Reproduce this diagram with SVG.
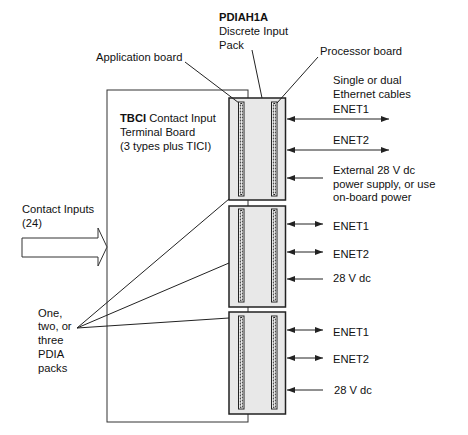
<svg xmlns="http://www.w3.org/2000/svg" width="468" height="435" viewBox="0 0 468 435">
<defs>
<style>
text{font-family:"Liberation Sans",Arial,sans-serif;font-size:11.2px;fill:#111}
.b{font-weight:bold}
.ln{stroke:#222;stroke-width:1;fill:none}
.pk{fill:#e8e8e8;stroke:#222;stroke-width:1.5}
.slot{fill:#fff;stroke:#222;stroke-width:1}
.dash{fill:none;stroke:#222;stroke-width:1;stroke-dasharray:2 1}
.ar{stroke:#222;stroke-width:1;fill:none}
.pw{stroke:#666;stroke-width:1.5;fill:none}
</style>
<marker id="ah" viewBox="0 0 8 6" refX="8" refY="3" markerWidth="8" markerHeight="6" markerUnits="userSpaceOnUse" orient="auto-start-reverse">
<path d="M0,0 L8,3 L0,6 Z" fill="#222"/>
</marker>
</defs>

<g id="terminal-board">
<rect x="107" y="90" width="141" height="332" fill="#fff" stroke="#333" stroke-width="1"/>
<text x="120" y="122"><tspan class="b">TBCI</tspan> Contact Input</text>
<text x="120" y="136">Terminal Board</text>
<text x="120" y="150">(3 types plus TICI)</text>
</g>

<g id="pack1">
<rect class="pk" x="229" y="98" width="56.5" height="102"/>
<rect class="slot" x="238.5" y="102" width="5.5" height="94"/>
<rect class="dash" x="240.3" y="103.5" width="2" height="91"/>
<rect class="slot" x="271.5" y="102" width="5.5" height="94"/>
<rect class="dash" x="273.3" y="103.5" width="2" height="91"/>
</g>
<g id="pack2">
<rect class="pk" x="229" y="206" width="56.5" height="101"/>
<rect class="slot" x="238.5" y="209" width="5.5" height="93"/>
<rect class="dash" x="240.3" y="210.5" width="2" height="90"/>
<rect class="slot" x="271.5" y="209" width="5.5" height="93"/>
<rect class="dash" x="273.3" y="210.5" width="2" height="90"/>
</g>
<g id="pack3">
<rect class="pk" x="229" y="312" width="56.5" height="102"/>
<rect class="slot" x="238.5" y="316" width="5.5" height="93"/>
<rect class="dash" x="240.3" y="317.5" width="2" height="90"/>
<rect class="slot" x="271.5" y="316" width="5.5" height="93"/>
<rect class="dash" x="273.3" y="317.5" width="2" height="90"/>
</g>

<g id="labels">
<text class="b" x="219" y="20.5">PDIAH1A</text>
<text x="219" y="35">Discrete Input</text>
<text x="219" y="49">Pack</text>
<text x="96" y="61">Application board</text>
<text x="320" y="55">Processor board</text>
<text x="333" y="84">Single or dual</text>
<text x="333" y="98">Ethernet cables</text>
<text x="333" y="113">ENET1</text>
<text x="333" y="144">ENET2</text>
<text x="333" y="174">External 28 V dc</text>
<text x="333" y="188">power supply, or use</text>
<text x="333" y="201">on-board power</text>
<text x="333" y="230">ENET1</text>
<text x="333" y="258">ENET2</text>
<text x="333" y="282">28 V dc</text>
<text x="333" y="336">ENET1</text>
<text x="333" y="363">ENET2</text>
<text x="334" y="394">28 V dc</text>
<text x="22" y="213">Contact Inputs</text>
<text x="22" y="227">(24)</text>
<text x="38" y="317">One,</text>
<text x="38" y="330">two, or</text>
<text x="38" y="344">three</text>
<text x="38" y="358">PDIA</text>
<text x="38" y="371.5">packs</text>
</g>

<g id="input-arrow">
<path d="M22,238 L98,238 L98,228 L107,247 L98,266 L98,257 L22,257 Z" fill="#fff" stroke="#333" stroke-width="1"/>
</g>

<g id="connectors">
<line class="ln" x1="185" y1="62" x2="239" y2="103"/>
<line class="ln" x1="252" y1="50" x2="262" y2="98"/>
<line class="ln" x1="318" y1="57" x2="277" y2="103"/>
<line class="ln" x1="77" y1="328" x2="229" y2="199"/>
<line class="ln" x1="77" y1="328" x2="229" y2="263"/>
<line class="ln" x1="77" y1="328" x2="229" y2="318"/>
<line class="ar" x1="287" y1="119" x2="389" y2="119" marker-start="url(#ah)" marker-end="url(#ah)"/>
<line class="ar" x1="287" y1="150" x2="389" y2="150" marker-start="url(#ah)" marker-end="url(#ah)"/>
<line class="pw" x1="323" y1="178" x2="287" y2="178" marker-end="url(#ah)"/>
<line class="ar" x1="287" y1="224" x2="323" y2="224" marker-start="url(#ah)" marker-end="url(#ah)"/>
<line class="ar" x1="287" y1="252" x2="323" y2="252" marker-start="url(#ah)" marker-end="url(#ah)"/>
<line class="ar" x1="323" y1="279" x2="287" y2="279" marker-end="url(#ah)"/>
<line class="ar" x1="287" y1="330" x2="323" y2="330" marker-start="url(#ah)" marker-end="url(#ah)"/>
<line class="ar" x1="287" y1="358" x2="323" y2="358" marker-start="url(#ah)" marker-end="url(#ah)"/>
<line class="ar" x1="323" y1="390" x2="287" y2="390" marker-end="url(#ah)"/>
</g>
</svg>
